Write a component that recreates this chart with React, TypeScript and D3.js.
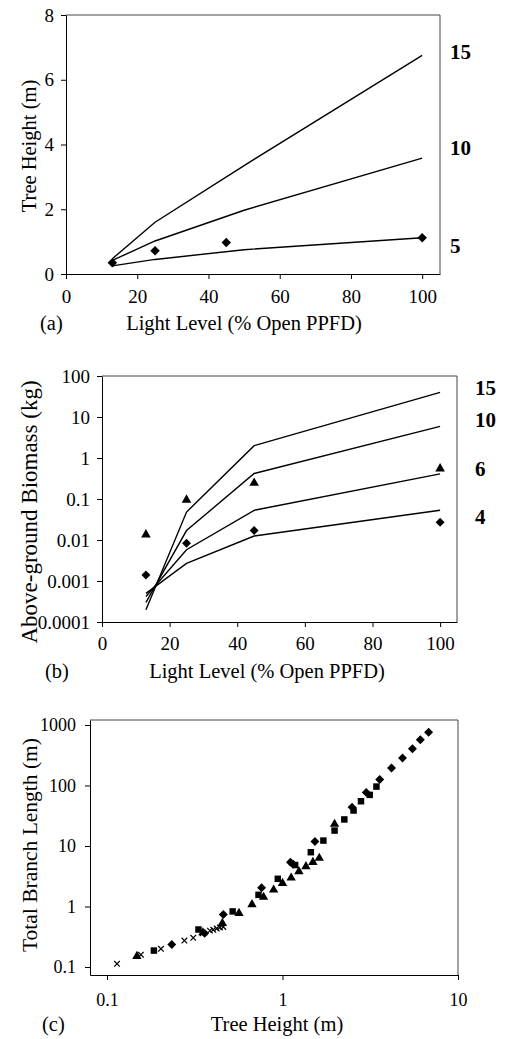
import React, { useEffect, useRef } from "react";
import * as d3 from "d3";

// ---- panel (a): tree height vs light ----
const lightA = [13, 25, 50, 100];
const heightA15 = [0.47, 1.6, 3.35, 6.75];
const heightA10 = [0.42, 1.02, 1.97, 3.58];
const heightA5 = [0.25, 0.45, 0.75, 1.12];
const obsLightA = [13, 25, 45, 100];
const obsHeightA = [0.35, 0.72, 0.97, 1.12];
const tickA_x = [0, 20, 40, 60, 80, 100];
const tickA_y = [0, 2, 4, 6, 8];

// ---- panel (b): biomass vs light ----
const lightB = [13, 25, 45, 100];
const massB15 = [0.0002, 0.048, 2.0, 40];
const massB10 = [0.0003, 0.017, 0.42, 5.9];
const massB6 = [0.00042, 0.0058, 0.053, 0.41];
const massB4 = [0.0005, 0.0027, 0.0125, 0.053];
const obsTriB = [0.0135, 0.095, 0.245, 0.55];
const obsDiaB = [0.0014, 0.0083, 0.017, 0.027];
const tickB_y = [0.0001, 0.001, 0.01, 0.1, 1, 10, 100];

// ---- panel (c): branch length vs height ----
const crossH = [0.114, 0.156, 0.203, 0.276, 0.31, 0.35, 0.386, 0.403, 0.422, 0.44, 0.46];
const crossL = [0.113, 0.16, 0.2, 0.274, 0.304, 0.36, 0.4, 0.412, 0.433, 0.45, 0.46];
const triH = [0.148, 0.352, 0.454, 0.565, 0.67, 0.78, 0.89, 1.0, 1.12, 1.24, 1.36, 1.49, 1.62, 1.98];
const triL = [0.151, 0.37, 0.53, 0.775, 1.08, 1.43, 1.89, 2.43, 2.98, 3.79, 4.58, 5.4, 6.3, 23];
const sqH = [0.185, 0.332, 0.52, 0.73, 0.94, 1.18, 1.45, 1.71, 1.98, 2.25, 2.54, 2.8, 3.14, 3.43];
const sqL = [0.187, 0.417, 0.83, 1.56, 2.87, 4.85, 7.9, 12.3, 18, 27.5, 38.6, 55, 70, 96];
const diaH = [0.234, 0.36, 0.46, 0.76, 1.11, 1.15, 1.53, 2.49, 3.0, 3.58, 4.18, 4.83, 5.5, 6.1, 6.8];
const diaL = [0.235, 0.36, 0.737, 2.04, 5.4, 5.0, 11.9, 43.9, 77, 126, 195, 284, 405, 570, 760];
const tickC_x = [0.1, 1, 10];
const tickC_y = [0.1, 1, 10, 100, 1000];

const FONT = "Liberation Serif, DejaVu Serif";

function styleAxis(g: any, size: number) {
  g.attr("font-family", FONT).attr("font-size", size);
  g.selectAll("text").attr("fill", "#000");
  g.selectAll("line").attr("stroke", "#000");
  g.select(".domain").attr("stroke", "#000");
}

function frame(svg: any, x0: number, x1: number, y0: number, y1: number) {
  svg.append("path")
    .attr("d", `M${x0},${y0}H${x1}V${y1}`)
    .attr("fill", "none")
    .attr("stroke", "#444")
    .attr("stroke-width", 1);
}

function diamond(svg: any, pts: [number, number][], s: number) {
  svg.append("g").selectAll("path").data(pts).join("path")
    .attr("d", d3.symbol(d3.symbolSquare, s)())
    .attr("transform", (d: any) => `translate(${d[0]},${d[1]}) rotate(45)`)
    .attr("fill", "#000");
}

function symbols(svg: any, pts: [number, number][], type: any, s: number) {
  svg.append("g").selectAll("path").data(pts).join("path")
    .attr("d", d3.symbol(type, s)())
    .attr("transform", (d: any) => `translate(${d[0]},${d[1]})`)
    .attr("fill", "#000");
}

function ytitle(svg: any, x: number, y: number, t: string, size: number) {
  svg.append("text")
    .attr("transform", `translate(${x},${y}) rotate(-90)`)
    .attr("text-anchor", "middle")
    .attr("font-family", FONT)
    .attr("font-size", size)
    .text(t);
}

function label(svg: any, x: number, y: number, t: string, size: number, bold = false, anchor = "start") {
  svg.append("text")
    .attr("x", x).attr("y", y)
    .attr("text-anchor", anchor)
    .attr("font-family", FONT)
    .attr("font-size", size)
    .attr("font-weight", bold ? "bold" : "normal")
    .text(t);
}

export default function App() {
  const ref = useRef<SVGSVGElement>(null);

  useEffect(() => {
    const svg = d3.select(ref.current);
    svg.selectAll("*").remove();

    // ===== (a) =====
    const xa = d3.scaleLinear().domain([0, 105]).range([66, 440]);
    const ya = d3.scaleLinear().domain([0, 8]).range([274, 15]);
    frame(svg, 66, 440, 15, 274);
    const axA = svg.append("g").attr("transform", "translate(0,274)")
      .call(d3.axisBottom(xa).tickValues(tickA_x).tickSize(5).tickSizeOuter(0).tickPadding(11));
    styleAxis(axA, 19);
    const ayA = svg.append("g").attr("transform", "translate(66,0)")
      .call(d3.axisLeft(ya).tickValues(tickA_y).tickSize(5).tickSizeOuter(0).tickPadding(7));
    styleAxis(ayA, 19);
    const lineA = d3.line<number>().x((d, i) => xa(lightA[i])).y((d) => ya(d));
    [heightA15, heightA10, heightA5].forEach((s) => {
      svg.append("path").attr("d", lineA(s)).attr("fill", "none").attr("stroke", "#000").attr("stroke-width", 1.4);
    });
    diamond(svg, obsLightA.map((l, i) => [xa(l), ya(obsHeightA[i])] as [number, number]), 45);
    ytitle(svg, 36, 146, "Tree Height (m)", 20.5);
    label(svg, 244, 330, "Light Level (% Open PPFD)", 20.5, false, "middle");
    label(svg, 40, 330, "(a)", 20.5);
    label(svg, 450, 59, "15", 21, true);
    label(svg, 450, 155, "10", 21, true);
    label(svg, 450, 253, "5", 21, true);

    // ===== (b) =====
    const xb = d3.scaleLinear().domain([0, 105]).range([102, 457]);
    const yb = d3.scaleLog().domain([0.0001, 100]).range([622, 376]);
    frame(svg, 102, 457, 376, 622);
    const axB = svg.append("g").attr("transform", "translate(0,622)")
      .call(d3.axisBottom(xb).tickValues(tickA_x).tickSize(5).tickSizeOuter(0).tickPadding(10));
    styleAxis(axB, 19);
    const ayB = svg.append("g").attr("transform", "translate(102,0)")
      .call(d3.axisLeft(yb).tickValues(tickB_y).tickFormat((d: any) => String(d)).tickSize(5).tickSizeOuter(0).tickPadding(7));
    styleAxis(ayB, 19);
    const lineB = d3.line<number>().x((d, i) => xb(lightB[i])).y((d) => yb(d));
    [massB15, massB10, massB6, massB4].forEach((s) => {
      svg.append("path").attr("d", lineB(s)).attr("fill", "none").attr("stroke", "#000").attr("stroke-width", 1.4);
    });
    symbols(svg, lightB.map((l, i) => [xb(l), yb(obsTriB[i])] as [number, number]), d3.symbolTriangle, 40);
    diamond(svg, lightB.map((l, i) => [xb(l), yb(obsDiaB[i])] as [number, number]), 40);
    ytitle(svg, 37, 512, "Above-ground Biomass (kg)", 23);
    label(svg, 267, 678, "Light Level (% Open PPFD)", 20.5, false, "middle");
    label(svg, 45, 678, "(b)", 20.5);
    label(svg, 475, 395, "15", 21, true);
    label(svg, 475, 427, "10", 21, true);
    label(svg, 475, 476, "6", 21, true);
    label(svg, 475, 524, "4", 21, true);

    // ===== (c) =====
    const xc = d3.scaleLog().domain([0.08, 10]).range([90, 458]);
    const yc = d3.scaleLog().domain([0.0738, 1210]).range([975, 720]);
    frame(svg, 90, 458, 720, 975);
    const axC = svg.append("g").attr("transform", "translate(0,975)")
      .call(d3.axisBottom(xc).tickValues(tickC_x).tickFormat((d: any) => String(d)).tickSize(5).tickSizeOuter(0).tickPadding(13));
    styleAxis(axC, 18);
    const ayC = svg.append("g").attr("transform", "translate(90,0)")
      .call(d3.axisLeft(yc).tickValues(tickC_y).tickFormat((d: any) => String(d)).tickSize(5).tickSizeOuter(0).tickPadding(9));
    styleAxis(ayC, 18);
    svg.append("g").selectAll("path").data(crossH).join("path")
      .attr("d", d3.symbol(d3.symbolTimes, 22)())
      .attr("transform", (d: any, i: number) => `translate(${xc(d)},${yc(crossL[i])})`)
      .attr("fill", "none").attr("stroke", "#000").attr("stroke-width", 1.2);
    symbols(svg, triH.map((h, i) => [xc(h), yc(triL[i])] as [number, number]), d3.symbolTriangle, 38);
    symbols(svg, sqH.map((h, i) => [xc(h), yc(sqL[i])] as [number, number]), d3.symbolSquare, 42);
    diamond(svg, diaH.map((h, i) => [xc(h), yc(diaL[i])] as [number, number]), 40);
    ytitle(svg, 37, 845, "Total Branch Length (m)", 21.5);
    label(svg, 277, 1031, "Tree Height (m)", 20.5, false, "middle");
    label(svg, 42, 1031, "(c)", 20.5);
  }, []);

  return (
    <svg ref={ref} width={508} height={1039}
      style={{ position: "absolute", left: 0, top: 0, display: "block", background: "#fff" }} />
  );
}
